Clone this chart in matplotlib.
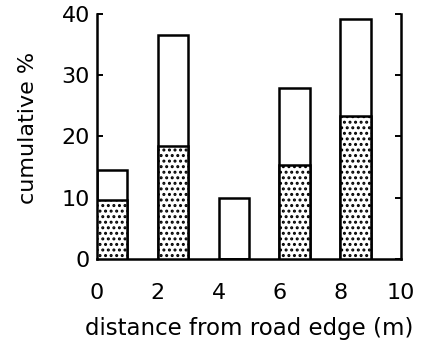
import matplotlib.pyplot as plt

plt.rcParams['font.family'] = ['DejaVu Sans']
plt.rcParams['hatch.linewidth'] = 1.4

# bars: left edge (m), total height, dotted (lower) part
dist = [0, 2, 4, 6, 8]
total = [14.5, 36.6, 10.0, 27.9, 39.2]
dotted = [9.7, 18.5, 0, 15.3, 23.3]

fig = plt.figure(figsize=(4.22, 3.54), dpi=100)
ax = fig.add_axes([0.23, 0.268, 0.72, 0.693])

ax.bar(dist, total, width=1, align='edge', color='white',
       edgecolor='black', linewidth=1.8, zorder=2)
ax.bar(dist, dotted, width=1, align='edge', color='white',
       edgecolor='black', linewidth=1.8, hatch='...', zorder=3)

ax.set_xlim(0, 10)
ax.set_ylim(0, 40)
ax.set_xticks([0, 2, 4, 6, 8, 10])
ax.set_yticks([0, 10, 20, 30, 40])
ax.tick_params(axis='x', length=0, pad=17, labelsize=16)
ax.tick_params(axis='y', direction='in', length=4, width=1.4, pad=5,
               labelsize=16, right=True)
ax.spines['top'].set_visible(False)
for s in ['left', 'right', 'bottom']:
    ax.spines[s].set_linewidth(1.8)

ax.set_xlabel('distance from road edge (m)', fontsize=16.5, labelpad=10)
ax.set_ylabel('cumulative %', fontsize=16)
ax.yaxis.set_label_coords(-0.195, 0.535)

fig.savefig('out.png', dpi=100)
